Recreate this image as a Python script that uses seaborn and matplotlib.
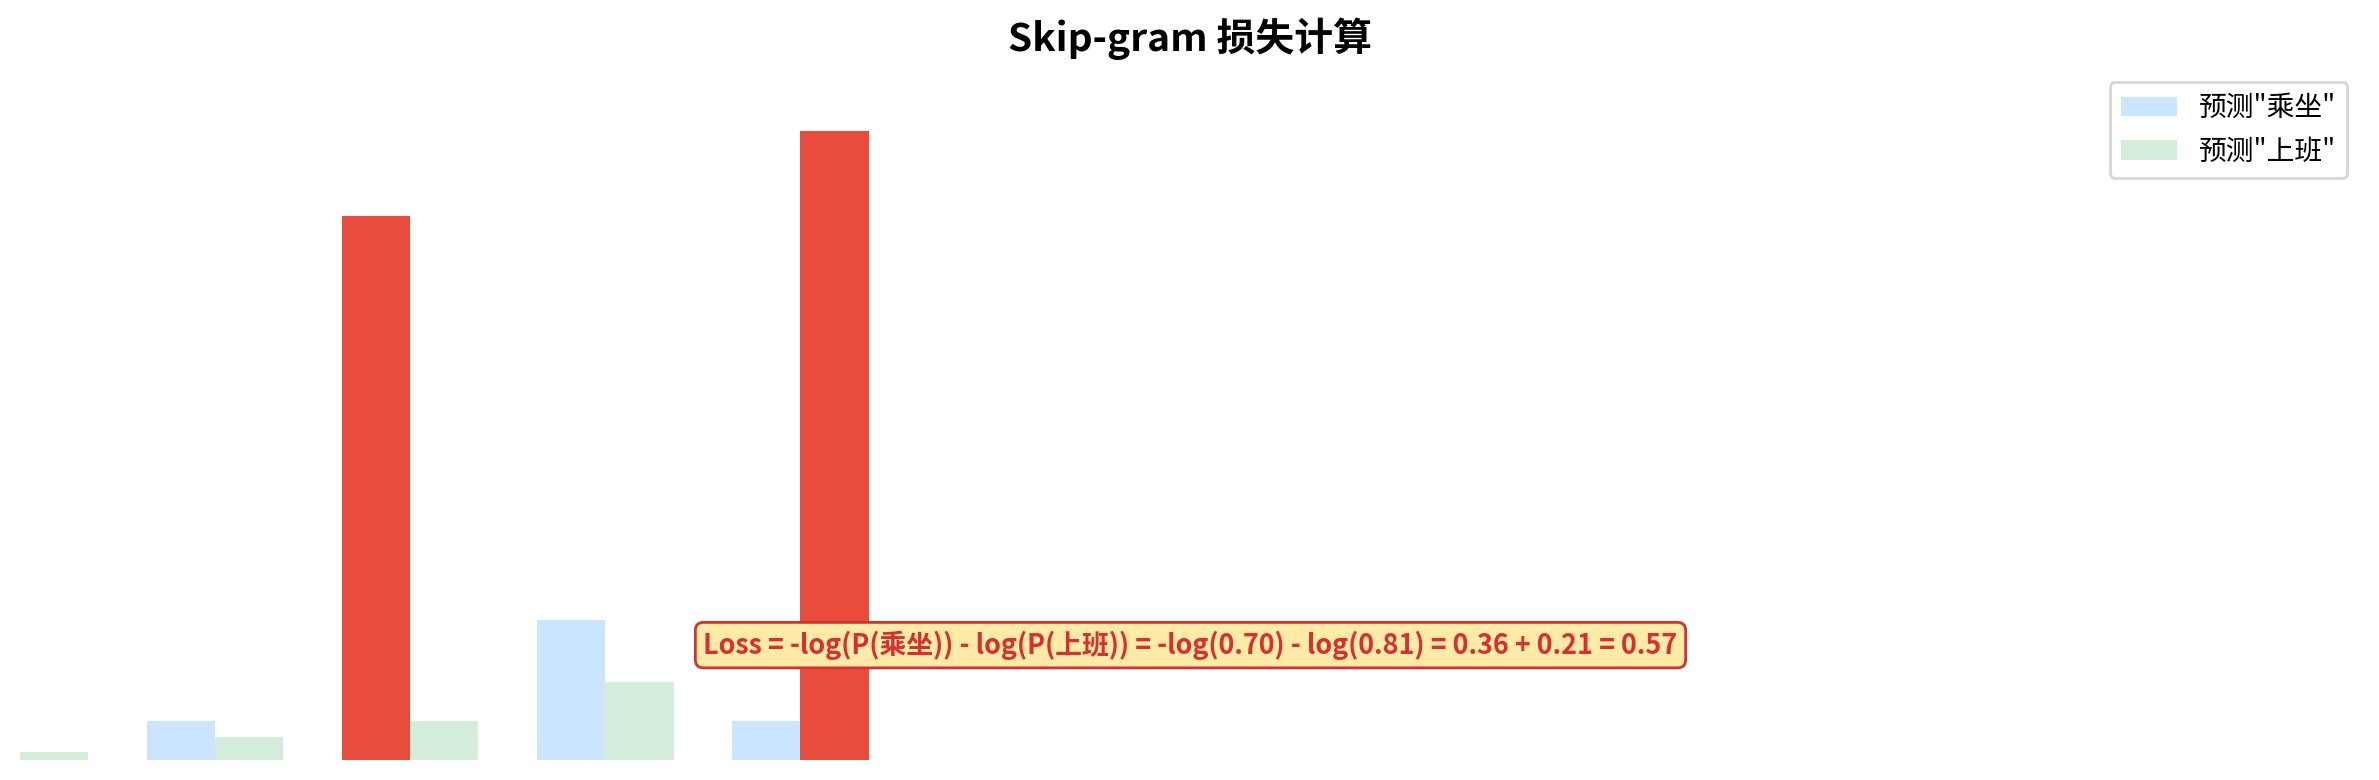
import matplotlib
matplotlib.use("Agg")
import matplotlib.pyplot as plt
import seaborn as sns
import pandas as pd

# vocabulary and predicted probabilities from center word "地铁"
words = ['我', '每天', '乘坐', '地铁', '上班']
prob_ride = [0.02, 0.05, 0.70, 0.18, 0.05]   # 预测"乘坐"
prob_work = [0.01, 0.03, 0.05, 0.10, 0.81]   # 预测"上班"
series_names = ['预测"乘坐"', '预测"上班"']
targets = ['乘坐', '上班']
loss_text = 'Loss = -log(P(乘坐)) - log(P(上班)) = -log(0.70) - log(0.81) = 0.36 + 0.21 = 0.57'

df = pd.DataFrame({
    'word': words * 2,
    'prob': prob_ride + prob_work,
    'series': [series_names[0]] * len(words) + [series_names[1]] * len(words),
})

sns.set_theme(style="white")
plt.rcParams['font.family'] = ['Noto Sans CJK SC', 'DejaVu Sans']
plt.rcParams['axes.unicode_minus'] = False
plt.rcParams['text.color'] = 'black'

fig = plt.figure(figsize=(2379 / 200, 780 / 200), dpi=200)
ax = fig.add_axes([20 / 2379, 20 / 780, 2341 / 2379, 692 / 780])

sns.barplot(
    data=df, x='word', y='prob', hue='series',
    palette=['#cce5ff', '#d4edda'], saturation=1,
    width=0.7, gap=0, errorbar=None, linewidth=0, ax=ax
)

ax.legend(loc='upper right', fontsize=10)

# highlight the true context word of each prediction
for container, target in zip(ax.containers, targets):
    idx = words.index(target)
    container.patches[idx].set_facecolor('#e74c3c')

ax.text(0.5, 0.166, loss_text, transform=ax.transAxes,
        ha='center', va='center', fontsize=9.7, fontweight='bold', color='#d63031',
        bbox=dict(boxstyle='round,pad=0.3', facecolor='#ffeaa7', edgecolor='#d63031', linewidth=1))

ax.set_xlim(0, 12)
ax.set_ylim(0, max(prob_work) * 1.1)
ax.set_title('Skip-gram 损失计算', fontsize=14, fontweight='bold', color='black')
ax.axis('off')

fig.savefig('out.png', dpi=200)
plt.close()
